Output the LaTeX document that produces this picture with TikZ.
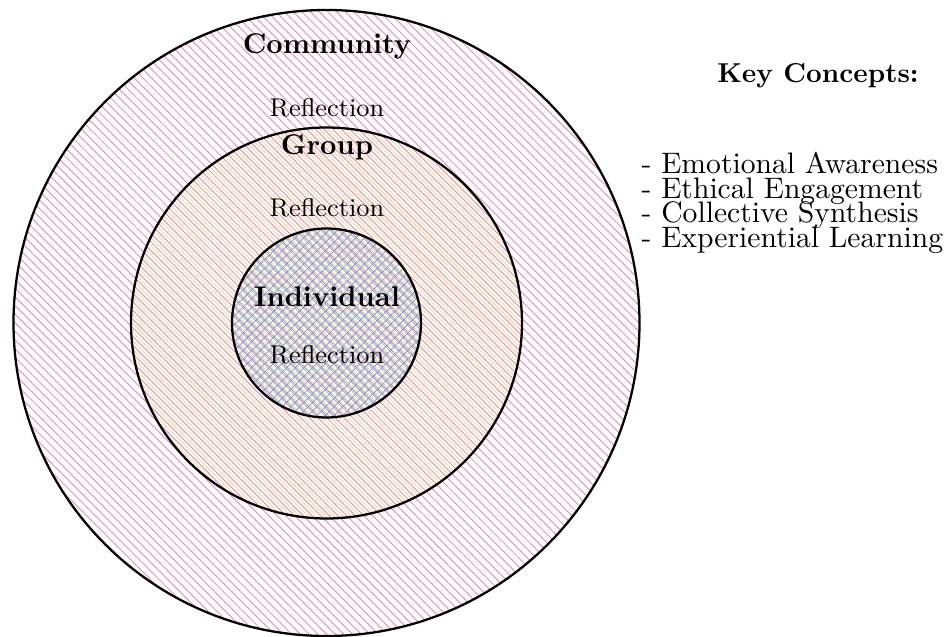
\documentclass[tikz,border=0pt]{standalone}
\usetikzlibrary{patterns,patterns.meta}
\definecolor{ringpink}{RGB}{244,130,182}
\definecolor{ringyellow}{RGB}{255,214,110}
\definecolor{ringblue}{RGB}{100,160,215}
\begin{document}
\begin{tikzpicture}[x=0.3509pt, y=-0.3509pt,
  ring/.style={draw=black, thick},
  level/.style={font=\bfseries},
  refl/.style={font=\small},
  keytitle/.style={font=\fontsize{9.6}{11}\selectfont\bfseries},
  keylist/.style={align=left, anchor=north west, inner sep=0pt,
    font=\fontsize{10.4}{12}\selectfont}]
  \useasboundingbox (0,0) rectangle (945,637);
  \coordinate (c) at (326.5,323);
  % community ring
  \fill[pattern={Lines[angle=-45,distance=2.15pt,line width=0.3pt]}, pattern color=ringpink] (c) circle[radius=313];
  % group ring
  \fill[pattern={Lines[angle=-45,distance=2.15pt,line width=0.25pt,xshift=1.52pt]}, pattern color=ringyellow] (c) circle[radius=195.5];
  % individual core
  \fill[pattern={Lines[angle=45,distance=2.15pt,line width=0.25pt]}, pattern color=ringblue] (c) circle[radius=94.5];
  \fill[pattern={Lines[angle=-45,distance=2.15pt,line width=0.25pt,xshift=0.76pt]}, pattern color=ringblue] (c) circle[radius=94.5];
  \draw[ring] (c) circle[radius=313];
  \draw[ring] (c) circle[radius=195.5];
  \draw[ring] (c) circle[radius=94.5];
  % labels
  \node[level] (community) at (327,46) {Community};
  \node[refl]  (commrefl)  at (327,108) {Reflection};
  \node[level] (group)     at (327,147) {Group};
  \node[refl]  (grouprefl) at (327,208) {Reflection};
  \node[level] (indiv)     at (327,297) {Individual};
  \node[refl]  (indivrefl) at (327,355) {Reflection};
  % key concepts
  \node[keylist] (keys) at (641,152) {- Emotional Awareness\\[-3.4pt]- Ethical Engagement\\[-3.4pt]- Collective Synthesis\\[-3.4pt]- Experiential Learning};
  \node[keytitle] (keyhead) at (818,76) {Key Concepts:};
\end{tikzpicture}
\end{document}
